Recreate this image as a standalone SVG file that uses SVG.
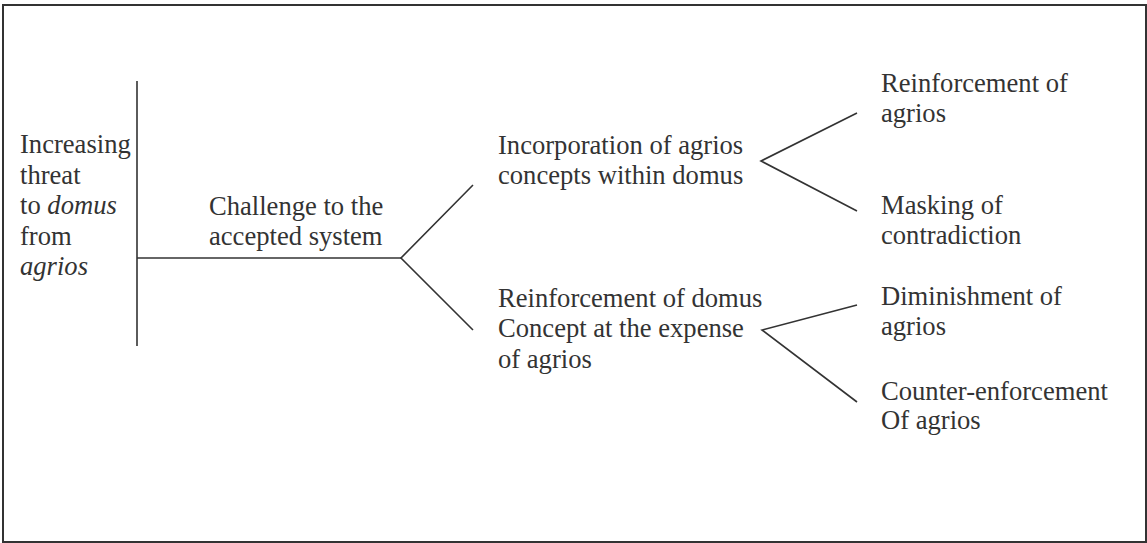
<svg xmlns="http://www.w3.org/2000/svg" width="1147" height="543" viewBox="0 0 1147 543">
  <style>
    .frame { fill: #ffffff; stroke: #333333; stroke-width: 2; }
    .link { fill: none; stroke: #333333; stroke-width: 1.6; stroke-linecap: butt; stroke-linejoin: miter; }
    text { font-family: "Liberation Serif", "Times New Roman", "DejaVu Serif", serif; font-size: 26.6px; fill: #333333; }
    .em { font-style: italic; }
  </style>

  <rect class="frame" x="3" y="5" width="1143" height="537"/>

  <!-- connectors: spine, trunk and the two forks -->
  <g id="connectors">
    <line class="link" x1="137" y1="81" x2="137" y2="346"/>
    <line class="link" x1="137" y1="258" x2="401" y2="258"/>
    <polyline class="link" points="473,185 401,258 473,330"/>
    <polyline class="link" points="857,113 761,161 857,211"/>
    <polyline class="link" points="857,305 762,330 857,402"/>
  </g>

  <g id="threat">
    <text x="20" y="153">Increasing</text>
    <text x="20" y="184">threat</text>
    <text x="20" y="214">to <tspan class="em">domus</tspan></text>
    <text x="20" y="245">from</text>
    <text x="20" y="275" class="em">agrios</text>
  </g>

  <g id="challenge">
    <text x="209" y="215">Challenge to the</text>
    <text x="209" y="245">accepted system</text>
  </g>

  <g id="incorporation">
    <text x="498" y="154">Incorporation of agrios</text>
    <text x="498" y="184">concepts within domus</text>
  </g>

  <g id="reinforcement-domus">
    <text x="498" y="307">Reinforcement of domus</text>
    <text x="498" y="337">Concept at the expense</text>
    <text x="498" y="368">of agrios</text>
  </g>

  <g id="reinforcement-agrios">
    <text x="881" y="92">Reinforcement of</text>
    <text x="881" y="122">agrios</text>
  </g>

  <g id="masking">
    <text x="881" y="214">Masking of</text>
    <text x="881" y="244">contradiction</text>
  </g>

  <g id="diminishment">
    <text x="881" y="305">Diminishment of</text>
    <text x="881" y="335">agrios</text>
  </g>

  <g id="counter-enforcement">
    <text x="881" y="400">Counter-enforcement</text>
    <text x="881" y="429">Of agrios</text>
  </g>
</svg>
